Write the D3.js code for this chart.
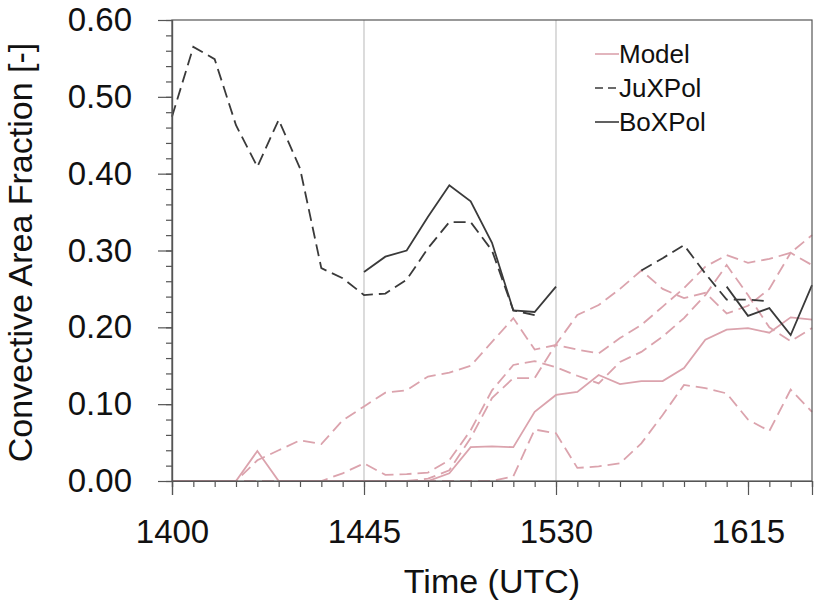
<!DOCTYPE html>
<html>
<head>
<meta charset="utf-8">
<script src="https://cdn.jsdelivr.net/npm/d3@7"></script>
<style>
  body { margin: 0; background: #fff; }
  svg { font-family: "Liberation Sans", Arial, Helvetica, sans-serif; }
</style>
</head>
<body>
<svg id="chart" width="817" height="603"></svg>
<script>
// minutes after 1400 UTC
var minutes = [0, 5, 10, 15, 20, 25, 30, 35, 40, 45, 50, 55, 60, 65, 70, 75, 80, 85, 90,
               95, 100, 105, 110, 115, 120, 125, 130, 135, 140, 145, 150];

var model = [0, 0, 0, 0, 0.039, 0, 0, 0, 0, 0, 0, 0, 0, 0.01, 0.044, 0.045, 0.044, 0.09, 0.112,
             0.116, 0.138, 0.126, 0.13, 0.13, 0.147, 0.184, 0.197, 0.199, 0.193, 0.213, 0.21];

// ensemble members (dashed, model colour)
var memberA = [0, 0, 0, 0, 0.027, 0.04, 0.053, 0.048, 0.079, 0.097, 0.115, 0.118, 0.136, 0.141, 0.15, 0.181, 0.212, 0.171, 0.177,
               0.171, 0.166, 0.186, 0.203, 0.227, 0.251, 0.279, 0.294, 0.284, 0.289, 0.297, 0.32];
var memberB = [0, 0, 0, 0, 0, 0, 0, 0, 0.01, 0.023, 0.008, 0.009, 0.011, 0.027, 0.066, 0.118, 0.151, 0.156, 0.148,
               0.137, 0.127, 0.155, 0.168, 0.188, 0.212, 0.242, 0.281, 0.242, 0.2, 0.182, 0.199];
var memberC = [0, 0, 0, 0, 0, 0, 0, 0, 0, 0, 0, 0, 0.003, 0.014, 0.056, 0.108, 0.134, 0.134, 0.178,
               0.216, 0.229, 0.25, 0.274, 0.25, 0.238, 0.245, 0.218, 0.228, 0.25, 0.297, 0.281];
var memberD = [0, 0, 0, 0, 0, 0, 0, 0, 0, 0, 0, 0, 0, 0, 0, 0, 0.006, 0.067, 0.062,
               0.017, 0.019, 0.023, 0.049, 0.086, 0.125, 0.121, 0.114, 0.08, 0.065, 0.119, 0.09];

var juxpol = [0.474, 0.565, 0.549, 0.463, 0.409, 0.47, 0.407, 0.277, 0.264, 0.242, 0.244, 0.262, 0.303, 0.337, 0.337, 0.3, 0.222, 0.216, null,
              null, null, null, 0.274, 0.29, 0.307, 0.27, 0.236, 0.236, 0.234, null, null];
var boxpol = [null, null, null, null, null, null, null, null, null, 0.272, 0.292, 0.3, 0.344, 0.385, 0.364, 0.31, 0.222, 0.22, 0.253,
              null, null, null, null, null, null, null, 0.253, 0.215, 0.225, 0.19, 0.255];

var xTickValues = [0, 45, 90, 135];
var xTickLabels = ["1400", "1445", "1530", "1615"];
var yTickValues = [0, 0.1, 0.2, 0.3, 0.4, 0.5, 0.6];
var gridMinutes = [45, 90];

var legendNames = ["Model", "JuXPol", "BoXPol"];

var margin = {top: 20, right: 5, bottom: 122, left: 172},
    width = 817 - margin.left - margin.right,
    height = 603 - margin.top - margin.bottom;

var pink = "#dba3ad", dark = "#3a3a3a";

var x = d3.scaleLinear().domain([0, 150]).range([0, width]);
var y = d3.scaleLinear().domain([0, 0.6]).range([height, 0]);

var svg = d3.select("#chart")
  .append("g")
    .attr("transform", "translate(" + margin.left + "," + margin.top + ")");

// grey verticals at 1445 and 1530
svg.selectAll(".vline")
    .data(gridMinutes)
  .enter().append("line")
    .attr("class", "vline")
    .attr("x1", d => x(d)).attr("x2", d => x(d))
    .attr("y1", 0).attr("y2", height)
    .style("stroke", "#c4c4c4")
    .style("stroke-width", 1.2);

var line = d3.line()
    .defined(d => d[1] !== null)
    .x(d => x(d[0]))
    .y(d => y(d[1]));

function pairs(vals) { return minutes.map((m, i) => [m, vals[i]]); }

[memberA, memberB, memberC, memberD].forEach(function(s) {
  svg.append("path")
      .attr("d", line(pairs(s)))
      .style("fill", "none")
      .style("stroke", pink)
      .style("stroke-width", 1.8)
      .style("stroke-dasharray", "12,6");
});

svg.append("path")
    .attr("d", line(pairs(model)))
    .style("fill", "none")
    .style("stroke", pink)
    .style("stroke-width", 1.8);

svg.append("path")
    .attr("d", line(pairs(juxpol)))
    .style("fill", "none")
    .style("stroke", dark)
    .style("stroke-width", 1.8)
    .style("stroke-dasharray", "12,6");

svg.append("path")
    .attr("d", line(pairs(boxpol)))
    .style("fill", "none")
    .style("stroke", dark)
    .style("stroke-width", 1.8);

// frame
svg.append("rect")
    .attr("width", width).attr("height", height)
    .style("fill", "none")
    .style("stroke", "#555")
    .style("stroke-width", 1.2);

// minor ticks
svg.append("g")
    .attr("class", "axis minor")
    .attr("transform", "translate(0," + height + ")")
    .call(d3.axisBottom(x).tickValues(minutes).tickSize(6).tickFormat(""));

svg.append("g")
    .attr("class", "axis minor")
    .call(d3.axisLeft(y).tickValues(d3.range(0, 0.61, 0.02)).tickSize(6).tickFormat(""));

// major ticks + labels
svg.append("g")
    .attr("class", "axis major x")
    .attr("transform", "translate(0," + height + ")")
    .call(d3.axisBottom(x).tickValues(xTickValues).tickSize(14).tickPadding(25)
      .tickFormat((d, i) => xTickLabels[i]));

svg.append("g")
    .attr("class", "axis major y")
    .call(d3.axisLeft(y).tickValues(yTickValues).tickSize(14).tickPadding(26)
      .tickFormat(d3.format(".2f")));

d3.selectAll(".axis path").style("stroke", "#555").style("stroke-width", 1.2);
d3.selectAll(".axis line").style("stroke", "#555").style("stroke-width", 1.2);
d3.selectAll(".axis text")
    .style("font-family", "'Liberation Sans', Arial, sans-serif")
    .style("font-size", "33px")
    .style("fill", "#111");

// axis titles
svg.append("text")
    .attr("x", width / 2)
    .attr("y", height + 112)
    .attr("text-anchor", "middle")
    .style("font-size", "34px")
    .style("fill", "#111")
    .text("Time (UTC)");

svg.append("text")
    .attr("transform", "translate(" + (-140) + "," + (height / 2 + 2) + ") rotate(-90)")
    .attr("text-anchor", "middle")
    .style("font-size", "34px")
    .style("fill", "#111")
    .text("Convective Area Fraction [-]");

// legend
var legendStyles = [
  {color: pink, dash: null},
  {color: dark, dash: "8,5"},
  {color: dark, dash: null}
];
var legend = svg.selectAll(".legend")
    .data(legendNames)
  .enter().append("g")
    .attr("class", "legend")
    .attr("transform", (d, i) => "translate(423," + (34 + i * 34) + ")");

legend.append("line")
    .attr("x1", 0).attr("x2", 24)
    .style("stroke", (d, i) => legendStyles[i].color)
    .style("stroke-width", 1.6)
    .style("stroke-dasharray", (d, i) => legendStyles[i].dash);

legend.append("text")
    .attr("x", 24)
    .attr("y", 9)
    .style("font-size", "26px")
    .style("fill", "#111")
    .text(d => d);
</script>
</body>
</html>
